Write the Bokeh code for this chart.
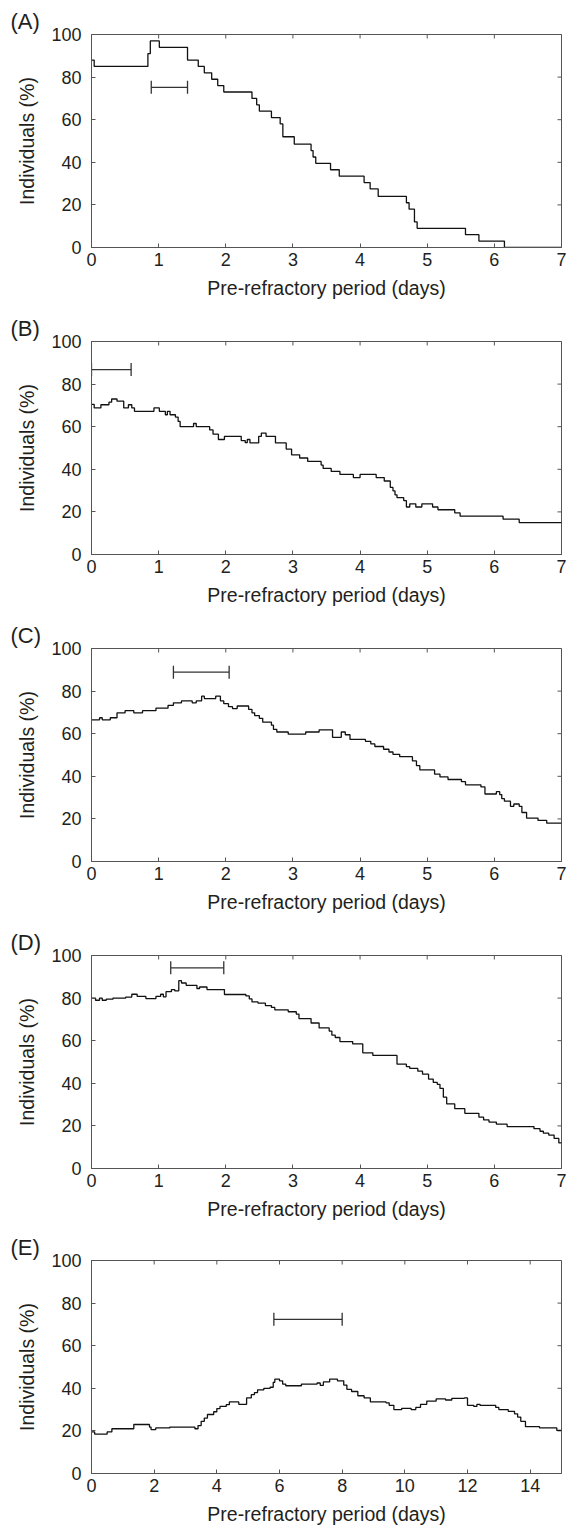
import math
from bokeh.plotting import figure
from bokeh.models import (Range1d, FixedTicker, Whisker, TeeHead, ColumnDataSource)
from bokeh.layouts import column
from bokeh.embed import file_html
from bokeh.resources import INLINE

# ---------------- data ----------------
panel_letters = ["(A)", "(B)", "(C)", "(D)", "(E)"]

xA = [0, 0.04, 0.84, 0.876, 1.01, 1.43, 1.59, 1.68, 1.79, 1.88, 1.97, 2.39, 2.46,
      2.50, 2.68, 2.81, 2.85, 3.02, 3.27, 3.30, 3.34, 3.56, 3.69, 4.06, 4.15, 4.27,
      4.69, 4.73, 4.81, 4.85, 5.57, 5.77, 6.15, 7.0]
yA = [88, 85, 91, 97, 94, 88, 85, 82, 79, 76, 73, 70, 67, 64, 61, 58, 52, 48.5,
      45.5, 42.5, 39.5, 36.5, 33.5, 30.5, 27.5, 24, 21, 18, 12, 9, 6, 3, 0, 0]

xB = [0, 0.04, 0.14, 0.26, 0.30, 0.38, 0.48, 0.55, 0.60, 0.64, 0.93, 1.01, 1.10,
      1.13, 1.17, 1.25, 1.29, 1.32, 1.52, 1.56, 1.76, 1.81, 1.89, 1.98, 2.23, 2.29,
      2.32, 2.36, 2.49, 2.53, 2.60, 2.74, 2.90, 2.98, 3.10, 3.22, 3.42, 3.45, 3.57,
      3.70, 3.90, 4.00, 4.24, 4.36, 4.45, 4.49, 4.52, 4.55, 4.65, 4.69, 4.74, 4.83,
      4.92, 5.08, 5.16, 5.41, 5.49, 6.13, 6.37, 7.0]
yB = [70.5, 68.8, 70.3, 71.5, 73, 72, 68.8, 70.3, 68.8, 67.2, 68.8, 67.2, 65.6,
      67.2, 65.6, 64.5, 62.5, 60, 61.5, 60, 58.5, 56.5, 54, 55.5, 53.5, 52.5, 54,
      52.4, 55.5, 57, 55.5, 52.4, 49.5, 46.8, 45.3, 43.7, 42, 40.4, 39, 37.6, 36.1,
      37.6, 36.1, 34.5, 31.5, 29.9, 28, 26.7, 25.3, 22.3, 23.8, 22.3, 23.8, 22.3,
      21, 19.5, 18, 16.6, 15, 15]

xC = [0, 0.12, 0.16, 0.28, 0.38, 0.50, 0.63, 0.76, 0.96, 1.14, 1.22, 1.34, 1.50,
      1.56, 1.64, 1.68, 1.85, 1.92, 1.97, 2.04, 2.10, 2.17, 2.34, 2.39, 2.43, 2.50,
      2.55, 2.68, 2.71, 2.76, 2.93, 3.19, 3.39, 3.59, 3.72, 3.78, 3.85, 4.08, 4.16,
      4.22, 4.35, 4.43, 4.49, 4.59, 4.78, 4.84, 4.89, 5.11, 5.19, 5.31, 5.51, 5.57,
      5.80, 5.86, 6.03, 6.08, 6.11, 6.15, 6.24, 6.29, 6.37, 6.41, 6.48, 6.65, 6.78, 7.0]
yC = [66.5, 67.5, 66.5, 67.5, 69.8, 70.8, 69.8, 70.8, 72, 73.3, 74.5, 75.4, 74.5,
      75.4, 77.6, 76.5, 77.6, 75.4, 74.1, 72.7, 71.8, 73, 71.4, 69.8, 68.5, 67.2,
      65.4, 64, 62, 60.8, 59.8, 60.8, 61.8, 58.3, 60.8, 59.5, 57.3, 56.4, 55.2, 54,
      52.7, 51.4, 50.3, 49.2, 47.2, 45, 43, 41, 39.7, 38.5, 37.5, 36, 35, 31.7, 32.8,
      31.4, 29.5, 28.3, 25.9, 27, 25.9, 23, 20.4, 19.3, 18, 18]

xD = [0, 0.06, 0.12, 0.16, 0.22, 0.32, 0.51, 0.60, 0.68, 0.81, 0.96, 1.03, 1.07,
      1.11, 1.19, 1.24, 1.30, 1.34, 1.41, 1.57, 1.61, 1.72, 1.98, 2.30, 2.35, 2.39,
      2.48, 2.59, 2.68, 2.73, 2.93, 3.05, 3.09, 3.27, 3.39, 3.54, 3.58, 3.63, 3.70,
      3.89, 4.04, 4.19, 4.55, 4.69, 4.74, 4.86, 4.93, 5.02, 5.09, 5.15, 5.19, 5.24,
      5.29, 5.41, 5.56, 5.77, 5.84, 5.92, 6.03, 6.19, 6.59, 6.68, 6.73, 6.81, 6.89,
      6.96, 7.0]
yD = [80, 79, 80, 79, 79.5, 80, 80.5, 81.8, 80.8, 79.8, 80.8, 81.8, 80.6, 83, 84,
      83.4, 88.2, 87.1, 86, 84.5, 85.2, 84, 81.7, 81, 79.6, 78.2, 77.6, 76.5, 75.6,
      74.5, 73.6, 72.5, 70.4, 68.3, 66, 64.5, 62.6, 61.5, 59.6, 58.5, 54.3, 53.1,
      49, 47.8, 47, 45.7, 44.3, 42, 40.4, 39.5, 37.6, 33.5, 30.3, 28.1, 25.9, 24.1,
      22.8, 21.8, 20.8, 19.7, 18.7, 17.5, 16.6, 15.7, 14.1, 12, 12]

xE = [0, 0.1, 0.5, 0.65, 1.35, 1.85, 1.9, 2.05, 2.5, 3.2, 3.3, 3.4, 3.5, 3.6, 3.7,
      3.9, 4.0, 4.1, 4.3, 4.4, 4.7, 4.95, 5.1, 5.2, 5.3, 5.5, 5.7, 5.8, 5.85, 6.0,
      6.1, 6.2, 6.7, 7.2, 7.3, 7.4, 7.6, 7.85, 8.05, 8.15, 8.3, 8.5, 8.7, 8.9, 9.4,
      9.5, 9.65, 9.9, 10.2, 10.35, 10.5, 10.7, 11.0, 11.3, 11.5, 11.9, 12.0, 12.2,
      12.3, 12.4, 12.9, 13.0, 13.3, 13.5, 13.6, 13.7, 13.85, 14.3, 14.85, 15.0]
yE = [19.5, 18.5, 19.5, 21, 23, 21.8, 20.6, 21.4, 21.8, 21.8, 21, 22.5, 24.5, 26,
      27.7, 29, 30.5, 31.5, 32.3, 33.6, 32.5, 35.5, 37, 38, 39.3, 40, 40.5, 42.8,
      44.3, 43.5, 42, 41.2, 42, 42.5, 41.4, 43, 44.3, 43.5, 41.5, 39.5, 38.5, 36.5,
      35.5, 33.6, 33.2, 32, 30, 30.6, 30, 31, 32.5, 34, 35, 34.5, 35.3, 35.5, 32,
      31.5, 32.5, 32, 31, 30, 29.2, 28, 26.5, 24.5, 22, 21.4, 20.2, 20.2]

# horizontal bars: (y level, start, end)
bar_y = [75.2, 86.8, 88.9, 94.2, 72.4]
bar_lo = [0.89, 0.0, 1.22, 1.18, 5.82]
bar_hi = [1.43, 0.59, 2.05, 1.97, 8.0]

x_max = [7, 7, 7, 7, 15]
x_ticks_7 = [0, 1, 2, 3, 4, 5, 6, 7]
x_ticks_15 = [0, 2, 4, 6, 8, 10, 12, 14]
y_ticks = [0, 20, 40, 60, 80, 100]
y_max = 100

x_label = "Pre-refractory period (days)"
y_label = "Individuals (%)"

# ---------------- style ----------------
FONT = "Liberation Sans"
TEXT = "#231f20"
FRAME = "#555555"
LINE = "#111111"

heights = [307, 307, 307, 306, 301]
tops = [34, 34, 34, 34, 33]
FRAME_H = 213

series = [(xA, yA), (xB, yB), (xC, yC), (xD, yD), (xE, yE)]


def style_axis(ax, ticks):
    ax.ticker = FixedTicker(ticks=ticks)
    ax.major_tick_in = 4
    ax.major_tick_out = 0
    ax.minor_tick_line_color = None
    ax.axis_line_color = FRAME
    ax.axis_line_width = 1
    ax.major_tick_line_color = FRAME
    ax.major_label_text_font = FONT
    ax.major_label_text_color = TEXT
    ax.major_label_text_font_size = "18px"
    ax.axis_label_text_font = FONT
    ax.axis_label_text_font_size = "19.5px"
    ax.axis_label_text_font_style = "normal"
    ax.axis_label_text_color = TEXT


plots = []
for i in range(5):
    xs, ys = series[i]
    xt = x_ticks_15 if x_max[i] == 15 else x_ticks_7
    h = heights[i]
    p = figure(width=568, height=h,
               x_range=Range1d(0, x_max[i]), y_range=Range1d(0, y_max),
               output_backend="svg", toolbar_location=None,
               min_border_left=91, min_border_right=7,
               min_border_top=tops[i], min_border_bottom=h - tops[i] - FRAME_H,
               x_axis_label=x_label, y_axis_label=y_label,
               title=panel_letters[i], title_location="above")
    p.grid.visible = False
    p.outline_line_color = FRAME
    p.outline_line_width = 1
    p.background_fill_color = "white"
    p.border_fill_color = "white"

    p.title.align = "left"
    p.title.offset = -81
    p.title.standoff = 2
    p.title.text_font = FONT
    p.title.text_font_size = "22px"
    p.title.text_font_style = "normal"
    p.title.text_color = TEXT

    style_axis(p.xaxis[0], xt)
    style_axis(p.yaxis[0], y_ticks)
    p.xaxis[0].major_label_standoff = 5
    p.yaxis[0].major_label_standoff = 10
    p.xaxis[0].axis_label_standoff = 8
    p.yaxis[0].axis_label_standoff = 10

    # inward ticks on the top and right edges of the box (half clipped by the frame)
    p.scatter(x=xt, y=[y_max] * len(xt), marker="dash", angle=math.pi / 2,
              size=8, line_color=FRAME, line_width=1)
    p.scatter(x=[x_max[i]] * len(y_ticks), y=y_ticks, marker="dash",
              size=8, line_color=FRAME, line_width=1)

    p.step(xs, ys, mode="after", line_color=LINE, line_width=1.3)

    src = ColumnDataSource(dict(base=[bar_y[i]], lower=[bar_lo[i]], upper=[bar_hi[i]]))
    wh = Whisker(source=src, base="base", lower="lower", upper="upper",
                 dimension="width", line_color="#333333", line_width=1.3,
                 upper_head=TeeHead(size=13, line_color="#333333", line_width=1.3),
                 lower_head=TeeHead(size=13, line_color="#333333", line_width=1.3))
    p.add_layout(wh)
    plots.append(p)

layout = column(*plots, spacing=0)
open("out.html", "w").write(file_html(layout, INLINE))
